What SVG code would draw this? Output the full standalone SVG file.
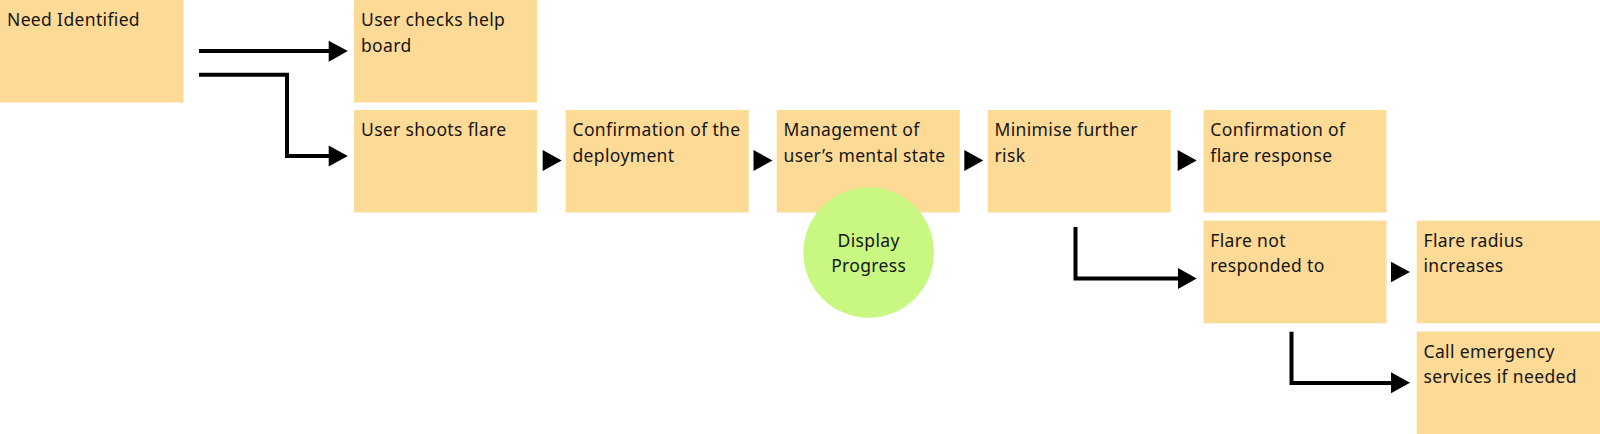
<svg xmlns="http://www.w3.org/2000/svg" width="1600" height="434" viewBox="0 0 1600 434">
<style>
.box{fill:#fdda96}
.t{font-family:"Noto Sans","Open Sans",sans-serif;font-size:17.5px;letter-spacing:0.35px;fill:#161616}
.tc{font-family:"Noto Sans","Open Sans",sans-serif;font-size:17.5px;letter-spacing:0.35px;fill:#161616;text-anchor:middle}
.ln{fill:none;stroke:#000;stroke-width:4}
.hd{fill:#000}
</style>
<rect width="1600" height="434" fill="#fff"/>
<g id="need"><rect class="box" x="0" y="0" width="183.5" height="102.5"/><text class="t" x="7" y="26">Need Identified</text></g>
<g id="help"><rect class="box" x="354" y="0" width="183" height="102.5"/><text class="t" x="361" y="26">User checks help</text><text class="t" x="361" y="51.5">board</text></g>
<g id="flare"><rect class="box" x="354" y="110" width="183" height="102.5"/><text class="t" x="361" y="136">User shoots flare</text></g>
<g id="confirm"><rect class="box" x="565.7" y="110" width="183" height="102.5"/><text class="t" x="572.5" y="136">Confirmation of the</text><text class="t" x="572.5" y="161.7">deployment</text></g>
<g id="manage"><rect class="box" x="776.7" y="110" width="183" height="102.5"/><text class="t" x="783.5" y="136">Management of</text><text class="t" x="783.5" y="161.7">user’s mental state</text></g>
<g id="minimise"><rect class="box" x="987.7" y="110" width="183" height="102.5"/><text class="t" x="994.5" y="136">Minimise further</text><text class="t" x="994.5" y="161.7">risk</text></g>
<g id="confresp"><rect class="box" x="1203.5" y="110" width="183" height="102.5"/><text class="t" x="1210.3" y="136">Confirmation of</text><text class="t" x="1210.3" y="161.7">flare response</text></g>
<g id="notresp"><rect class="box" x="1203.5" y="220.7" width="183" height="102.5"/><text class="t" x="1210.3" y="246.7">Flare not</text><text class="t" x="1210.3" y="272.4">responded to</text></g>
<g id="radius"><rect class="box" x="1416.7" y="220.7" width="183.3" height="102.5"/><text class="t" x="1423.5" y="246.7">Flare radius</text><text class="t" x="1423.5" y="272.4">increases</text></g>
<g id="emergency"><rect class="box" x="1416.7" y="331.5" width="183.3" height="102.5"/><text class="t" x="1423.5" y="357.5">Call emergency</text><text class="t" x="1423.5" y="383.2">services if needed</text></g>
<g id="progress"><circle cx="868.7" cy="252.5" r="65.3" fill="#c9f882"/><text class="tc" x="868.7" y="247.3">Display</text><text class="tc" x="868.7" y="271.7">Progress</text></g>
<g id="connectors">
<path class="ln" d="M199,51 H330"/>
<path class="hd" d="M328.7,40.7 L347.8,51 L328.7,61.7 Z"/>
<path class="ln" d="M199,74.7 H287 V156 H330"/>
<path class="hd" d="M328.7,145.5 L347.8,156 L328.7,166.5 Z"/>
<path class="ln" d="M1075.5,227 V278.5 H1180"/>
<path class="hd" d="M1178,268 L1196.7,278.5 L1178,289 Z"/>
<path class="ln" d="M1291.5,331.7 V383 H1393"/>
<path class="hd" d="M1391,372.2 L1410,382.7 L1391,393.3 Z"/>
<path class="hd" d="M542.7,150 L561.7,160.5 L542.7,171 Z"/>
<path class="hd" d="M753.5,150 L772.5,160.5 L753.5,171 Z"/>
<path class="hd" d="M964.3,150 L983.3,160.5 L964.3,171 Z"/>
<path class="hd" d="M1177.7,150 L1196.7,160.5 L1177.7,171 Z"/>
<path class="hd" d="M1391,261.7 L1410,272 L1391,282.3 Z"/>
</g>
</svg>
